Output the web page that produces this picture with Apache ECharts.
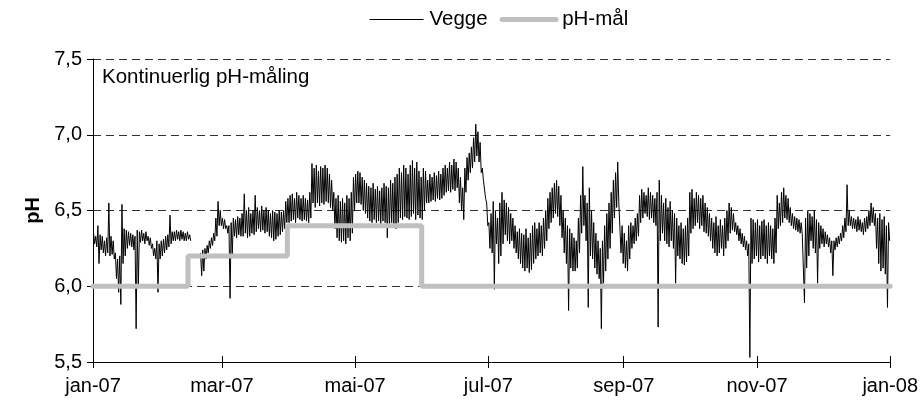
<!DOCTYPE html>
<html>
<head>
  <meta charset="utf-8">
  <title>Kontinuerlig pH-måling</title>
  <script src="https://cdn.jsdelivr.net/npm/echarts@6/dist/echarts.min.js"></script>
</head>

<body style="margin:0">
	<div style="width:921px;height:403px;" id="main"></div>

<script type="text/javascript">
// dag 0 = 1. januar 2007, en topp og en bunn per døgn (lest av figuren)
var dayHi = [
  // jan
  6.35,6.33,6.40,6.34,6.33,6.30,6.32,6.55,6.33,6.30,6.22,6.18,6.20,6.54,6.38,6.37,6.36,6.35,6.34,6.33,6.37,6.36,6.37,6.35,6.36,6.33,6.32,6.28,6.25,6.30,6.28,
  // feb
  6.30,6.31,6.33,6.34,6.47,6.36,6.36,6.37,6.36,6.37,6.36,6.35,6.36,6.34,null,null,null,null,6.22,6.24,6.25,6.27,6.30,6.32,6.35,6.45,6.56,6.50,
  // mar
  6.45,6.44,6.40,6.40,6.42,6.45,6.44,6.46,6.45,6.48,6.61,6.50,6.52,6.48,6.50,6.60,6.52,6.50,6.53,6.50,6.52,6.50,6.48,6.50,6.49,6.48,6.50,6.49,6.50,6.56,6.58,
  // apr
  6.60,6.61,6.58,6.62,6.60,6.58,6.60,6.58,6.57,6.62,6.81,6.78,6.80,6.76,6.79,6.78,6.80,6.78,6.74,6.70,6.62,6.58,6.60,6.56,6.58,6.55,6.60,6.58,6.62,6.72,
  // mai
  6.74,6.76,6.75,6.72,6.70,6.68,6.66,6.65,6.68,6.64,6.66,6.63,6.65,6.68,6.66,6.65,6.70,6.68,6.72,6.74,6.78,6.75,6.80,6.78,6.74,6.80,6.83,6.78,6.82,6.76,6.72,
  // jun
  6.78,6.76,6.70,6.74,6.72,6.75,6.73,6.76,6.74,6.78,6.80,6.78,6.82,6.80,6.84,6.82,6.78,6.72,6.65,6.78,6.85,6.88,6.92,6.98,7.07,7.02,6.95,6.78,6.70,6.55,
  // jul
  6.42,6.48,6.56,6.50,6.45,6.55,6.62,6.57,6.55,6.52,6.48,6.45,6.40,6.36,6.38,6.35,6.34,6.38,6.32,6.35,6.40,6.42,6.38,6.42,6.40,6.45,6.50,6.58,6.62,6.65,6.68,
  // aug
  6.70,6.66,6.60,6.50,6.45,6.40,6.38,6.35,6.32,6.30,6.45,6.60,6.79,6.60,6.55,6.65,6.50,6.42,6.35,6.30,6.25,6.30,6.40,6.48,6.55,6.62,6.70,6.75,6.82,6.55,6.40,
  // sep
  6.35,6.30,6.40,6.42,6.40,6.45,6.48,6.60,6.64,6.62,6.60,6.65,6.62,6.60,6.58,6.62,6.70,6.60,6.55,6.58,6.52,6.56,6.50,6.48,6.45,6.40,6.42,6.38,6.40,6.45,
  // okt
  6.62,6.64,6.58,6.62,6.60,6.58,6.60,6.55,6.52,6.48,6.45,6.42,6.46,6.40,6.44,6.40,6.45,6.50,6.55,6.52,6.48,6.42,6.40,6.38,6.35,6.33,6.30,6.28,6.45,6.44,6.42,
  // nov
  6.44,6.40,6.43,6.44,6.40,6.42,6.40,6.38,6.45,6.60,6.55,6.62,6.65,6.60,6.58,6.52,6.48,6.46,6.45,6.44,6.42,6.35,6.45,6.50,6.48,6.46,6.50,6.44,6.42,6.40,
  // des
  6.38,6.36,6.34,6.32,6.30,6.30,6.32,6.33,6.35,6.40,6.45,6.67,6.50,6.46,6.45,6.44,6.46,6.44,6.42,6.45,6.46,6.50,6.55,6.52,6.48,6.45,6.48,6.44,6.46,6.40,6.42
];
var dayLo = [
  // jan
  6.28,6.26,6.15,6.24,6.22,6.20,6.22,6.20,6.21,6.18,6.05,5.96,5.88,6.15,6.20,6.25,6.27,6.26,6.24,5.72,6.00,6.29,6.30,6.28,6.30,6.27,6.25,6.20,6.18,5.96,6.18,
  // feb
  6.20,6.22,6.24,6.26,6.28,6.30,6.30,6.31,6.30,6.31,6.30,6.30,6.31,6.30,null,null,null,null,6.07,6.10,6.18,6.22,6.25,6.27,6.30,6.33,6.40,6.40,
  // mar
  6.38,6.38,6.35,5.92,6.20,6.33,6.32,6.34,6.33,6.33,6.35,6.32,6.33,6.35,6.34,6.36,6.38,6.36,6.37,6.35,6.36,6.33,6.32,6.30,6.31,6.33,6.34,6.36,6.38,6.42,6.42,
  // apr
  6.43,6.44,6.42,6.45,6.44,6.43,6.44,6.43,6.42,6.45,6.55,6.52,6.55,6.53,6.55,6.54,6.56,6.55,6.52,6.50,6.38,6.32,6.30,6.29,6.30,6.28,6.32,6.30,6.35,6.50,
  // mai
  6.55,6.55,6.54,6.50,6.48,6.45,6.43,6.42,6.44,6.42,6.43,6.41,6.43,6.42,6.32,6.40,6.42,6.40,6.38,6.42,6.45,6.44,6.46,6.45,6.44,6.46,6.48,6.44,6.47,6.45,6.44,
  // jun
  6.50,6.55,6.55,6.56,6.57,6.56,6.58,6.57,6.58,6.60,6.62,6.63,6.62,6.64,6.63,6.65,6.55,6.50,6.44,6.62,6.70,6.75,6.78,6.82,6.86,6.82,6.75,6.70,6.58,6.40,
  // jul
  6.25,6.22,5.98,6.28,6.15,6.20,6.28,6.34,6.30,6.28,6.30,6.25,6.22,6.18,6.15,6.12,6.10,6.12,6.09,6.11,6.15,6.18,6.20,6.22,6.20,6.25,6.30,6.38,6.42,6.45,6.48,
  // aug
  6.46,6.40,6.32,6.22,6.15,5.84,6.12,6.10,6.10,6.12,6.22,6.35,6.40,6.30,5.86,6.20,6.18,6.12,6.08,6.05,5.72,6.02,6.10,6.18,6.25,6.35,6.45,6.52,6.55,6.22,6.15,
  // sep
  6.12,6.10,6.18,6.25,6.28,6.30,6.33,6.42,6.45,6.48,6.46,6.44,6.45,6.42,6.40,5.73,6.30,6.35,6.30,6.28,6.26,6.30,6.25,6.02,6.20,6.18,6.15,6.14,6.16,6.20,
  // okt
  6.35,6.38,6.40,6.42,6.38,6.40,6.36,6.35,6.33,6.30,6.25,6.22,6.20,6.22,6.25,6.20,6.25,6.30,6.35,6.37,6.36,6.34,6.30,6.28,6.26,6.24,6.20,5.53,6.15,6.18,6.20,
  // nov
  6.16,6.18,6.20,6.18,6.15,6.20,6.18,6.15,6.22,6.38,6.40,6.42,6.45,6.44,6.42,6.40,6.38,6.37,6.36,6.35,6.34,5.89,6.12,6.20,6.30,6.25,6.22,6.02,6.25,6.28,
  // des
  6.26,6.28,6.26,6.22,6.07,6.24,6.26,6.28,6.30,6.32,6.36,6.40,6.40,6.38,6.38,6.36,6.37,6.36,6.34,6.36,6.38,6.40,6.42,6.40,6.25,6.15,6.10,6.12,6.08,5.86,6.30
];

// pH-mål: nivå fra og med dag
var targetDays = [0, 43.5, 89, 150.5, 365];
var targetLevels = [6.0, 6.2, 6.4, 6.0, 6.0];

var tickDays = [0, 59, 120, 181, 243, 304, 365];
var tickLabels = ['jan-07', 'mar-07', 'mai-07', 'jul-07', 'sep-07', 'nov-07', 'jan-08'];

var vegge = [];
for (var i = 0; i < dayHi.length; i++) {
	if (dayHi[i] === null) {
		vegge.push([i + 0.5, '-']);
		continue;
	}
	vegge.push([i + 0.25, dayHi[i]]);
	vegge.push([i + 0.75, dayLo[i]]);
}
var maal = [];
for (var j = 0; j < targetDays.length; j++) {
	maal.push([targetDays[j], targetLevels[j]]);
}

var FONT = 'Liberation Sans, Arial, sans-serif';
var myChart = echarts.init(document.getElementById('main'));

var option = {
    animation: false,
    textStyle: { fontFamily: FONT },
    title: {
        text: 'Kontinuerlig pH-måling',
        left: 102,
        top: 67,
        padding: 0,
        textStyle: { fontSize: 20.5, fontWeight: 'normal', color: '#000', fontFamily: FONT }
    },
    legend: {
        left: 364,
        top: 4,
        itemWidth: 54,
        itemHeight: 12,
        itemGap: 12,
        itemStyle: { opacity: 0 },
        textStyle: { fontSize: 20.5, color: '#000', fontFamily: FONT, padding: [0, 0, 0, 1] },
        data: [
            { name: 'Vegge', lineStyle: { width: 1, color: '#000' } },
            { name: 'pH-mål', lineStyle: { width: 5, color: '#c0c0c0' } }
        ]
    },
    grid: { left: 93, right: 30, top: 59, bottom: 41 },
    xAxis: [{
        type: 'value',
        min: 0,
        max: 365,
        axisLine: { lineStyle: { color: '#000', width: 1 } },
        axisTick: { length: 6, customValues: tickDays, lineStyle: { color: '#000' } },
        axisLabel: {
            customValues: tickDays,
            margin: 14,
            fontSize: 20,
            color: '#000',
            fontFamily: FONT,
            formatter: function (v) { return tickLabels[tickDays.indexOf(v)]; }
        },
        splitLine: { show: false }
    }, {
        type: 'value',
        min: 0,
        max: 365,
        position: 'bottom',
        axisLine: { show: false },
        axisTick: { inside: true, length: 6, customValues: tickDays, lineStyle: { color: '#000' } },
        axisLabel: { show: false },
        splitLine: { show: false }
    }],
    yAxis: {
        type: 'value',
        min: 5.5,
        max: 7.5,
        interval: 0.5,
        name: 'pH',
        nameLocation: 'middle',
        nameGap: 32,
        nameRotate: 90,
        nameTextStyle: { fontSize: 20, fontWeight: 'bold', color: '#000', fontFamily: FONT },
        axisLine: { show: true, lineStyle: { color: '#000', width: 1 } },
        axisTick: { show: true, length: 6, lineStyle: { color: '#000' } },
        axisLabel: {
            margin: 11,
            fontSize: 20,
            color: '#000',
            fontFamily: FONT,
            formatter: function (v) { return v.toFixed(1).replace('.', ','); }
        },
        splitLine: { lineStyle: { color: '#333', type: [8, 5], width: 1 } }
    },
    series: [{
        name: 'Vegge',
        type: 'line',
        xAxisIndex: 0,
        symbol: 'none',
        data: vegge,
        lineStyle: { color: '#000', width: 1 },
        itemStyle: { color: '#000' }
    }, {
        name: 'pH-mål',
        type: 'line',
        xAxisIndex: 0,
        symbol: 'none',
        step: 'end',
        data: maal,
        lineStyle: { color: '#c0c0c0', width: 5, cap: 'round' },
        itemStyle: { color: '#c0c0c0' }
    }]
};

myChart.setOption(option);
</script>
</body>
</html>
